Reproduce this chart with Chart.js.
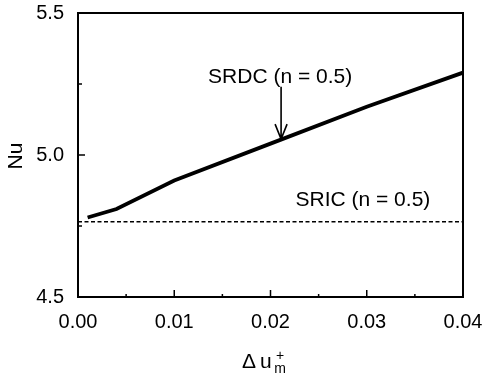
<!DOCTYPE html>
<html>
<head>
<meta charset="utf-8">
<script src="https://cdn.jsdelivr.net/npm/chart.js@4/dist/chart.umd.min.js"></script>
<style>
  html, body { margin: 0; padding: 0; background: #fff; }
  #wrap { width: 482px; height: 374px; }
</style>
</head>
<body>
<div id="wrap"><canvas id="chart" width="482" height="374"></canvas></div>
<script>
// data
const duValues = [0.001, 0.004, 0.01, 0.02, 0.03, 0.04];
const srdcNu = [4.78, 4.81, 4.91, 5.04, 5.17, 5.29];
const sricDu = [0, 0.04];
const sricNu = [4.765, 4.765];
const xMajorLabels = [0, 0.01, 0.02, 0.03, 0.04];
const yMajorLabels = [4.5, 5.0, 5.5];

const FONT = "'Liberation Sans', Arial, Helvetica, sans-serif";

function toPoints(xs, ys)
{
    return xs.map(function(x, i) { return { x: x, y: ys[i] }; });
}

function isMajor(list, v)
{
    return list.some(function(m) { return Math.abs(m - v) < 1e-9; });
}

// frame, inward ticks, annotations and axis titles
const decor = {
    id: 'decor',
    afterDraw(chart) {
        const ctx = chart.ctx;
        const a = chart.chartArea;
        const xs = chart.scales.x;
        const ys = chart.scales.y;
        ctx.save();
        ctx.strokeStyle = '#000';
        ctx.lineWidth = 2;
        ctx.strokeRect(a.left, a.top, a.right - a.left, a.bottom - a.top);

        ctx.lineWidth = 1.5;
        ctx.beginPath();
        xs.ticks.forEach(function(t) {
            const px = xs.getPixelForValue(t.value);
            const len = isMajor(xMajorLabels, t.value) ? 7 : 3;
            ctx.moveTo(px, a.bottom);
            ctx.lineTo(px, a.bottom - len);
        });
        ys.ticks.forEach(function(t) {
            const py = ys.getPixelForValue(t.value);
            const len = isMajor(yMajorLabels, t.value) ? 7 : 4;
            ctx.moveTo(a.left, py);
            ctx.lineTo(a.left + len, py);
        });
        ctx.stroke();

        // annotations
        ctx.fillStyle = '#000';
        ctx.font = '21px ' + FONT;
        ctx.textAlign = 'center';
        ctx.textBaseline = 'middle';
        ctx.fillText('SRDC (n = 0.5)', xs.getPixelForValue(0.021), ys.getPixelForValue(5.275));
        ctx.fillText('SRIC (n = 0.5)', xs.getPixelForValue(0.0296), ys.getPixelForValue(4.842));

        const ax = xs.getPixelForValue(0.0211);
        const ay0 = ys.getPixelForValue(5.24);
        const ay1 = ys.getPixelForValue(5.056);
        ctx.lineWidth = 1.6;
        ctx.beginPath();
        ctx.moveTo(ax, ay0);
        ctx.lineTo(ax, ay1);
        ctx.moveTo(ax - 6, ay1 - 15);
        ctx.lineTo(ax, ay1);
        ctx.lineTo(ax + 6, ay1 - 15);
        ctx.stroke();

        // x title: Δ u with + over m
        ctx.font = '21px ' + FONT;
        ctx.textAlign = 'left';
        ctx.textBaseline = 'middle';
        ctx.fillText('\u0394', 242, 362);
        ctx.fillText('u', 260, 362);
        ctx.font = '14px ' + FONT;
        ctx.textAlign = 'center';
        ctx.fillText('+', 280, 356);
        ctx.fillText('m', 280, 369);

        // y title
        ctx.translate(16, 156);
        ctx.rotate(-Math.PI / 2);
        ctx.font = '21px ' + FONT;
        ctx.textAlign = 'center';
        ctx.textBaseline = 'middle';
        ctx.fillText('Nu', 0, 0);
        ctx.restore();
    }
};

new Chart(document.getElementById('chart').getContext('2d'), {
    type: 'line',
    data: {
        datasets: [
            {
                label: 'SRDC (n = 0.5)',
                data: toPoints(duValues, srdcNu),
                borderColor: '#000',
                borderWidth: 3.8,
                pointRadius: 0,
                tension: 0,
                fill: false
            },
            {
                label: 'SRIC (n = 0.5)',
                data: toPoints(sricDu, sricNu),
                borderColor: '#000',
                borderWidth: 1.5,
                borderDash: [4, 2.5],
                pointRadius: 0,
                fill: false
            }
        ]
    },
    options: {
        responsive: false,
        animation: false,
        layout: { padding: { left: 0, right: 19, top: 13, bottom: 0 } },
        plugins: {
            legend: { display: false },
            tooltip: { enabled: false }
        },
        scales: {
            x: {
                type: 'linear',
                min: 0,
                max: 0.04,
                grid: { display: false },
                border: { display: false },
                ticks: {
                    stepSize: 0.005,
                    padding: 5,
                    color: '#000',
                    font: { family: FONT, size: 20 },
                    maxRotation: 0,
                    autoSkip: false,
                    callback: function(v) {
                        return isMajor(xMajorLabels, v) ? v.toFixed(2) : '';
                    }
                },
                afterFit: function(scale) {
                    scale.height = 77;
                    scale.paddingLeft = 0;
                    scale.paddingRight = 0;
                }
            },
            y: {
                min: 4.5,
                max: 5.5,
                grid: { display: false },
                border: { display: false },
                ticks: {
                    stepSize: 0.25,
                    padding: 6,
                    color: '#000',
                    font: { family: FONT, size: 20 },
                    autoSkip: false,
                    callback: function(v) {
                        return isMajor(yMajorLabels, v) ? v.toFixed(1) : '';
                    }
                },
                afterFit: function(scale) {
                    scale.width = 78;
                    scale.paddingTop = 0;
                    scale.paddingBottom = 0;
                }
            }
        }
    },
    plugins: [decor]
});
</script>
</body>
</html>
